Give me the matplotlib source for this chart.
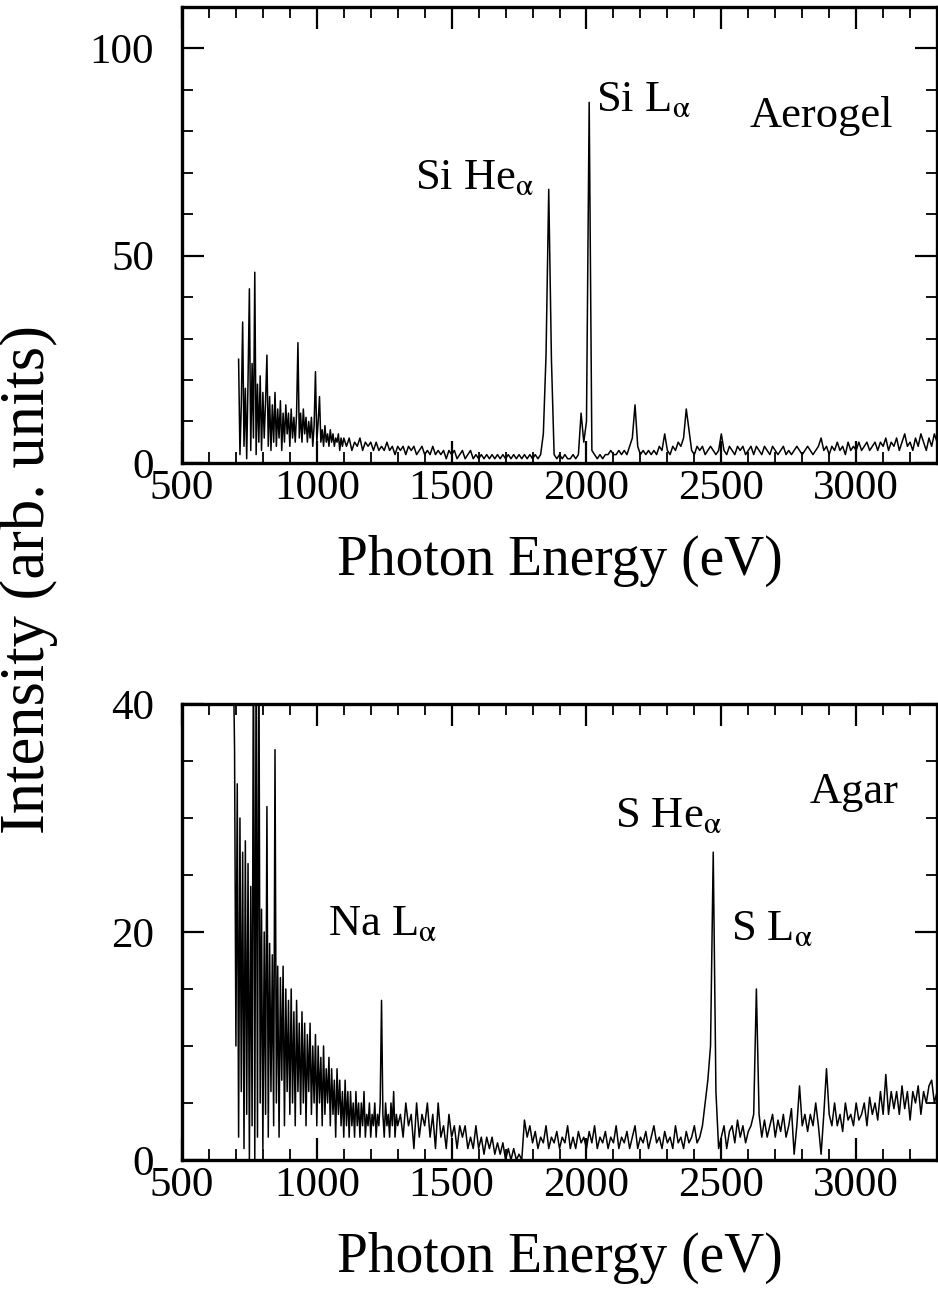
import numpy as np
import matplotlib
matplotlib.use("Agg")
from matplotlib import pyplot as plt
from matplotlib.ticker import MultipleLocator

plt.rcParams['font.family'] = ['Liberation Serif', 'DejaVu Serif']
plt.rcParams['mathtext.fontset'] = 'stix'

# Aerogel spectrum: 5 eV steps from 710 eV, then 10 eV steps from 1100 eV
aerogel_fine_start = 710
aerogel_fine = [
    25, 2, 14, 34, 4, 18, 1, 20, 42, 3,
    24, 6, 46, 2, 19, 5, 21, 3, 17, 6,
    15, 26, 4, 16, 3, 14, 5, 17, 4, 13,
    6, 15, 3, 12, 5, 14, 7, 12, 4, 13,
    6, 11, 5, 12, 29, 6, 12, 5, 13, 7,
    11, 5, 10, 6, 11, 4, 9, 22, 5, 10,
    16, 5, 8, 4, 9, 5, 7, 4, 8, 5,
    7, 4, 6, 5, 7, 3, 6, 4,
]
aerogel_coarse_start = 1100
aerogel_coarse = [
    6,
    4, 6, 3, 5, 4, 6, 3, 5, 4, 5,
    3, 5, 3, 4, 3, 5, 3, 4, 2, 4,
    3, 4, 2, 4, 3, 4, 2, 3, 4, 2,
    3, 2, 4, 2, 3, 2, 3, 1, 3, 2,
    3, 1, 2, 3, 1, 2, 3, 1, 2, 1,
    2, 1, 2, 1, 2, 1, 2, 1, 2, 1,
    2, 1, 2, 1, 2, 1, 2, 1, 2, 1,
    2, 1, 2, 7, 26, 66, 25, 2, 1, 2,
    1, 2, 1, 1, 2, 1, 2, 12, 5, 10,
    87, 3, 2, 1, 2, 1, 2, 2, 3, 2,
    2, 3, 2, 3, 2, 4, 6, 14, 4, 2,
    3, 2, 3, 2, 3, 2, 4, 3, 7, 3,
    2, 4, 3, 5, 4, 6, 13, 8, 3, 2,
    4, 3, 4, 2, 3, 4, 3, 2, 3, 7,
    3, 2, 4, 3, 2, 4, 3, 4, 2, 3,
    4, 2, 4, 3, 2, 4, 3, 2, 4, 3,
    2, 3, 4, 2, 3, 2, 3, 4, 3, 2,
    3, 4, 3, 2, 3, 4, 6, 3, 4, 2,
    4, 3, 5, 3, 4, 2, 5, 3, 4, 3,
    5, 3, 4, 5, 3, 4, 5, 3, 5, 4,
    6, 3, 5, 4, 6, 3, 5, 7, 4, 5,
    3, 6, 4, 7, 5, 3, 6, 4, 7, 5,
]

# Agar spectrum: 5 eV steps from 690 eV, then 10 eV steps from 1300 eV
agar_fine_start = 690
agar_fine = [
    45, 36, 10, 33, 2, 30, 6, 27, 1, 28,
    4, 26, 0, 24, 3, 48, 0, 45, 2, 48,
    5, 22, 1, 20, 4, 31, 2, 19, 6, 18,
    3, 36, 5, 17, 2, 16, 7, 17, 3, 15,
    6, 14, 4, 15, 5, 13, 3, 14, 6, 12,
    4, 13, 5, 12, 3, 11, 6, 12, 4, 10,
    5, 11, 3, 10, 5, 9, 3, 10, 4, 8,
    5, 9, 3, 8, 4, 7, 2, 8, 4, 7,
    3, 6, 2, 7, 3, 6, 2, 6, 3, 5,
    2, 6, 3, 5, 2, 5, 3, 6, 2, 4,
    3, 5, 2, 4, 3, 5, 2, 4, 3, 5,
    14, 4, 2, 5, 3, 4, 2, 5, 3, 6,
    2, 4,
]
agar_coarse_start = 1300
agar_coarse = [
    3, 4, 2, 5, 3, 4, 1, 5, 2,
    4, 3, 5, 2, 4, 1, 5, 2, 3, 1,
    4, 2, 3, 1, 3, 2, 3, 1, 2, 1,
    3, 1, 2, 0.5, 2, 1, 2, 0.5, 1.5, 0.5,
    1.5, 0, 1, 0, 1, 0, 0.5, 0, 3.5, 2,
    3, 1.5, 2.5, 1, 2, 1.5, 3, 1, 2, 1.5,
    2.5, 1, 2, 1.5, 3, 1, 2, 1, 2.5, 1.5,
    2, 1, 2.5, 1.5, 3, 1, 2, 1.5, 2.5, 1,
    2, 1.5, 3, 1, 2, 1.5, 2.5, 1, 2, 3,
    1, 2, 1.5, 2.5, 1, 2, 3, 1.5, 2, 1,
    2.5, 1.5, 2, 1, 3, 1.5, 2, 1, 2.5, 1.5,
    2, 3, 1.5, 2, 3, 5, 7, 10, 27, 6,
    1, 2, 3, 1, 2.5, 3, 1.5, 3.5, 2, 3,
    1.5, 2.5, 3, 4, 15, 4, 2, 3.5, 2, 3,
    4, 2, 3.5, 2.5, 4, 2, 3, 4.5, 0.5, 3,
    6.5, 3, 4, 2.5, 4, 3, 5, 3, 0.5, 4,
    8, 4, 3, 5, 3, 4, 2.5, 5, 3.5, 4,
    3, 5, 3.5, 4, 5, 3, 5.5, 4, 5, 3.5,
    6, 4, 7.5, 4, 6, 4.5, 6, 4, 6.5, 4.5,
    6, 3.5, 6, 5, 6.5, 4, 6, 5, 6.5, 7,
    5, 6,
]

aerogel_labels = [("Si He$_{\\mathrm{\\alpha}}$", 1363, 66), ("Si L$_{\\mathrm{\\alpha}}$", 2037, 85),
                  ("Aerogel", 2604, 81)]
agar_labels = [("Na L$_{\\mathrm{\\alpha}}$", 1041, 19.7), ("S He$_{\\mathrm{\\alpha}}$", 2104, 29.2),
               ("S L$_{\\mathrm{\\alpha}}$", 2537, 19.3), ("Agar", 2826, 31.3)]

fig = plt.figure(figsize=(9.38, 12.93), dpi=100)
ax1 = fig.add_axes([0.194, 0.642, 0.805, 0.3526])
ax2 = fig.add_axes([0.194, 0.1029, 0.805, 0.3526])


def style(ax, ymax, major, minor):
    ax.set_xlim(500, 3300)
    ax.set_ylim(0, ymax)
    ax.xaxis.set_major_locator(MultipleLocator(500))
    ax.xaxis.set_minor_locator(MultipleLocator(100))
    ax.yaxis.set_major_locator(MultipleLocator(major))
    ax.yaxis.set_minor_locator(MultipleLocator(minor))
    ax.tick_params(which='both', direction='in', top=True, right=True, labelsize=31)
    ax.tick_params(which='major', length=16, width=1.6)
    ax.tick_params(which='minor', length=8, width=1.3)
    ax.tick_params(axis='x', pad=5)
    ax.tick_params(axis='y', pad=20)
    for s in ax.spines.values():
        s.set_linewidth(2.4)
    ax.set_xlabel("Photon Energy (eV)", fontsize=40, labelpad=19)


def spectrum(fine_start, fine, coarse_start, coarse):
    x = np.concatenate([fine_start + 5 * np.arange(len(fine)),
                        coarse_start + 10 * np.arange(len(coarse))])
    y = np.concatenate([fine, coarse])
    return x, y


x1, y1 = spectrum(aerogel_fine_start, aerogel_fine, aerogel_coarse_start, aerogel_coarse)
ax1.plot(x1, y1, color='black', lw=1.1)
style(ax1, 110, 50, 10)
for txt, x, y in aerogel_labels:
    ax1.text(x, y, txt, fontsize=32, va='baseline')

x2, y2 = spectrum(agar_fine_start, agar_fine, agar_coarse_start, agar_coarse)
ax2.plot(x2, y2, color='black', lw=1.1)
style(ax2, 40, 20, 5)
for txt, x, y in agar_labels:
    ax2.text(x, y, txt, fontsize=32, va='baseline')

fig.text(0.031, 0.5515, "Intensity (arb. units)", rotation=90, fontsize=45,
         ha='center', va='center')

fig.savefig("out.png", dpi=100)
